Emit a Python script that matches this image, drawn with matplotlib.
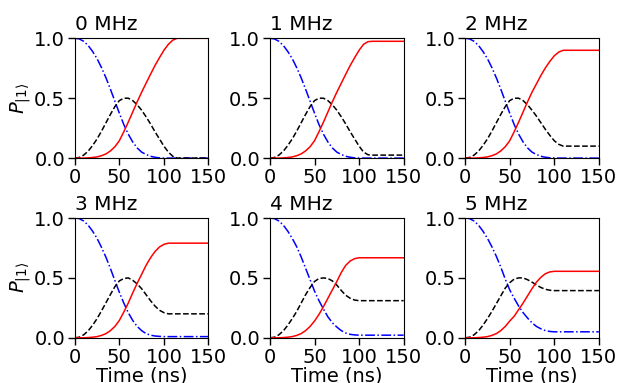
import numpy as np
import matplotlib
matplotlib.use("Agg")
import matplotlib.pyplot as plt

# time axis (ns)
t = np.arange(0, 151, 5)

detunings = ["0 MHz", "1 MHz", "2 MHz", "3 MHz", "4 MHz", "5 MHz"]

# populations, one list per curve and panel
blue_0 = [1.0, 0.995, 0.975, 0.94, 0.89, 0.83, 0.755, 0.67, 0.575, 0.475, 0.375, 0.28, 0.20, 0.135, 0.085, 0.05,
          0.03, 0.015, 0.007, 0.002, 0.0, 0.0, 0.0, 0.0, 0.0, 0.0, 0.0, 0.0, 0.0, 0.0, 0.0]
black_0 = [0.0, 0.005, 0.025, 0.058, 0.105, 0.16, 0.225, 0.295, 0.365, 0.43, 0.48, 0.50, 0.50, 0.48, 0.445, 0.40,
           0.345, 0.285, 0.22, 0.16, 0.10, 0.05, 0.015, 0.0, 0.0, 0.0, 0.0, 0.0, 0.0, 0.0, 0.0]
red_0 = [0.0, 0.0, 0.0, 0.002, 0.005, 0.01, 0.02, 0.035, 0.06, 0.095, 0.145, 0.22, 0.30, 0.385, 0.47, 0.55,
         0.625, 0.70, 0.773, 0.838, 0.90, 0.95, 0.985, 1.0, 1.0, 1.0, 1.0, 1.0, 1.0, 1.0, 1.0]

blue_1 = [1.0, 0.995, 0.975, 0.94, 0.89, 0.83, 0.755, 0.67, 0.575, 0.475, 0.375, 0.28, 0.20, 0.135, 0.085, 0.05,
          0.03, 0.015, 0.007, 0.002, 0.0, 0.0, 0.0, 0.0, 0.0, 0.0, 0.0, 0.0, 0.0, 0.0, 0.0]
black_1 = [0.0, 0.005, 0.025, 0.058, 0.105, 0.16, 0.225, 0.295, 0.365, 0.43, 0.48, 0.50, 0.50, 0.48, 0.445, 0.40,
           0.345, 0.285, 0.22, 0.16, 0.10, 0.05, 0.028, 0.025, 0.025, 0.025, 0.025, 0.025, 0.025, 0.025, 0.025]
red_1 = [0.0, 0.0, 0.0, 0.002, 0.005, 0.01, 0.02, 0.035, 0.06, 0.095, 0.145, 0.22, 0.30, 0.385, 0.47, 0.55,
         0.625, 0.70, 0.773, 0.838, 0.90, 0.95, 0.972, 0.975, 0.975, 0.975, 0.975, 0.975, 0.975, 0.975, 0.975]

blue_2 = [1.0, 0.995, 0.975, 0.94, 0.89, 0.83, 0.755, 0.67, 0.575, 0.475, 0.375, 0.28, 0.20, 0.135, 0.085, 0.05,
          0.03, 0.015, 0.007, 0.003, 0.001, 0.0, 0.0, 0.0, 0.0, 0.0, 0.0, 0.0, 0.0, 0.0, 0.0]
black_2 = [0.0, 0.005, 0.025, 0.058, 0.105, 0.16, 0.225, 0.295, 0.365, 0.43, 0.48, 0.50, 0.50, 0.48, 0.445, 0.40,
           0.35, 0.295, 0.24, 0.19, 0.145, 0.115, 0.10, 0.10, 0.10, 0.10, 0.10, 0.10, 0.10, 0.10, 0.10]
red_2 = [0.0, 0.0, 0.0, 0.002, 0.005, 0.01, 0.02, 0.035, 0.06, 0.095, 0.145, 0.22, 0.30, 0.385, 0.47, 0.55,
         0.62, 0.69, 0.753, 0.807, 0.854, 0.885, 0.90, 0.90, 0.90, 0.90, 0.90, 0.90, 0.90, 0.90, 0.90]

blue_3 = [1.0, 0.995, 0.975, 0.94, 0.89, 0.83, 0.755, 0.672, 0.578, 0.478, 0.38, 0.29, 0.21, 0.145, 0.095, 0.06,
          0.035, 0.022, 0.015, 0.012, 0.01, 0.01, 0.01, 0.01, 0.01, 0.01, 0.01, 0.01, 0.01, 0.01, 0.01]
black_3 = [0.0, 0.005, 0.025, 0.058, 0.105, 0.16, 0.225, 0.293, 0.362, 0.427, 0.475, 0.495, 0.50, 0.48, 0.45, 0.41,
           0.36, 0.31, 0.265, 0.23, 0.21, 0.20, 0.20, 0.20, 0.20, 0.20, 0.20, 0.20, 0.20, 0.20, 0.20]
red_3 = [0.0, 0.0, 0.0, 0.002, 0.005, 0.01, 0.02, 0.035, 0.06, 0.095, 0.145, 0.215, 0.29, 0.375, 0.455, 0.53,
         0.605, 0.668, 0.72, 0.758, 0.78, 0.79, 0.79, 0.79, 0.79, 0.79, 0.79, 0.79, 0.79, 0.79, 0.79]

blue_4 = [1.0, 0.995, 0.975, 0.94, 0.89, 0.83, 0.76, 0.675, 0.58, 0.485, 0.39, 0.31, 0.24, 0.175, 0.125, 0.09,
          0.06, 0.04, 0.029, 0.024, 0.022, 0.022, 0.022, 0.022, 0.022, 0.022, 0.022, 0.022, 0.022, 0.022, 0.022]
black_4 = [0.0, 0.005, 0.025, 0.058, 0.105, 0.16, 0.22, 0.29, 0.36, 0.42, 0.47, 0.495, 0.50, 0.495, 0.475, 0.44,
           0.395, 0.355, 0.33, 0.315, 0.31, 0.31, 0.31, 0.31, 0.31, 0.31, 0.31, 0.31, 0.31, 0.31, 0.31]
red_4 = [0.0, 0.0, 0.0, 0.002, 0.005, 0.01, 0.02, 0.035, 0.06, 0.095, 0.14, 0.195, 0.26, 0.33, 0.40, 0.47,
         0.545, 0.605, 0.641, 0.661, 0.668, 0.668, 0.668, 0.668, 0.668, 0.668, 0.668, 0.668, 0.668, 0.668, 0.668]

blue_5 = [1.0, 0.995, 0.975, 0.94, 0.89, 0.83, 0.76, 0.68, 0.59, 0.49, 0.40, 0.33, 0.265, 0.21, 0.165, 0.125,
          0.095, 0.075, 0.06, 0.053, 0.05, 0.05, 0.05, 0.05, 0.05, 0.05, 0.05, 0.05, 0.05, 0.05, 0.05]
black_5 = [0.0, 0.005, 0.025, 0.058, 0.105, 0.16, 0.22, 0.285, 0.35, 0.415, 0.46, 0.49, 0.50, 0.50, 0.485, 0.465,
           0.44, 0.42, 0.405, 0.397, 0.394, 0.394, 0.394, 0.394, 0.394, 0.394, 0.394, 0.394, 0.394, 0.394, 0.394]
red_5 = [0.0, 0.0, 0.0, 0.002, 0.005, 0.01, 0.02, 0.035, 0.06, 0.095, 0.14, 0.18, 0.235, 0.29, 0.35, 0.41,
         0.465, 0.505, 0.535, 0.55, 0.555, 0.555, 0.555, 0.555, 0.555, 0.555, 0.555, 0.555, 0.555, 0.555, 0.555]

blues = [blue_0, blue_1, blue_2, blue_3, blue_4, blue_5]
blacks = [black_0, black_1, black_2, black_3, black_4, black_5]
reds = [red_0, red_1, red_2, red_3, red_4, red_5]

fig, axes = plt.subplots(2, 3, figsize=(6.18, 3.83), dpi=100)
fig.subplots_adjust(left=0.121, right=0.969, top=0.90, bottom=0.118, wspace=0.46, hspace=0.5)

for i, ax in enumerate(axes.flat):
    ax.plot(t, blues[i], color='blue', ls='-.', lw=1.1)
    ax.plot(t, blacks[i], color='black', ls='--', lw=1.1)
    ax.plot(t, reds[i], color='red', ls='-', lw=1.1)
    ax.set_xlim(0, 150)
    ax.set_ylim(0, 1)
    ax.set_xticks([0, 50, 100, 150])
    ax.set_yticks([0, 0.5, 1.0])
    ax.tick_params(labelsize=14, length=5, width=1, pad=2)
    ax.set_title(detunings[i], loc='left', fontsize=14.5, pad=6)
    if i % 3 == 0:
        ax.set_ylabel(r'$P_{|1\rangle}$', fontsize=14, labelpad=1)
    if i >= 3:
        ax.set_xlabel('Time (ns)', fontsize=14, labelpad=0)

fig.savefig('out.png', dpi=100)
